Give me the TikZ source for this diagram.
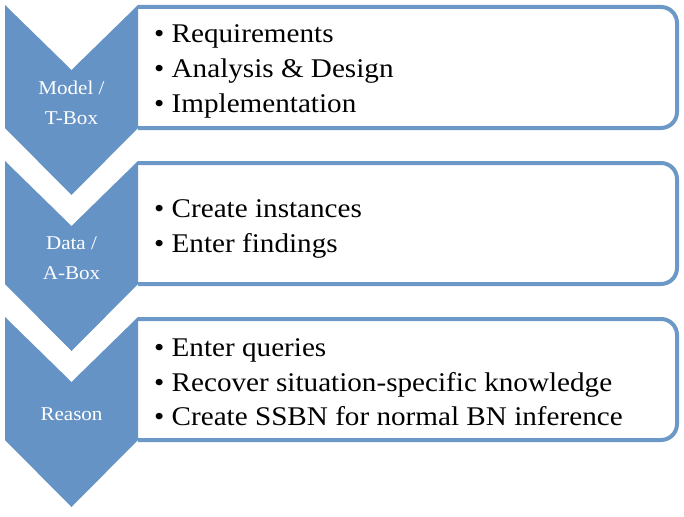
\documentclass[tikz,border=0pt]{standalone}
\usepackage{fontspec}
\setmainfont{Liberation Serif}
\newfontfamily\widefont[FakeStretch=1.08]{Liberation Serif}
\definecolor{chevblue}{RGB}{102,147,197}
\definecolor{lineblue}{RGB}{108,152,199}
\tikzset{
  chev/.style={fill=chevblue, draw=none},
  boxline/.style={draw=lineblue, line width=4pt, rounded corners=16pt},
  item/.style={anchor=base west, inner sep=0pt, font=\widefont\fontsize{27}{30}\selectfont, text=black},
  chevlabel/.style={text=white, align=center, inner sep=0pt, font=\widefont\fontsize{19.5}{30}\selectfont},
}
\begin{document}
\begin{tikzpicture}[x=1pt,y=-1pt]
\useasboundingbox (0,0) rectangle (684,516);
\foreach \i/\dy in {1/0,2/156,3/312}{
  \begin{scope}[yshift=-\dy pt]
    \draw[boxline] (138,7) -- (677,7) -- (677,128) -- (138,128);
    \path[chev] (5,5) -- (71.5,70) -- (138,5) -- (138,128) -- (71.5,195) -- (5,128) -- cycle;
  \end{scope}
}
\node[chevlabel] (l1) at (71.5,103) {Model /\\T-Box};
\node[chevlabel] (l2) at (71.5,258) {Data /\\A-Box};
\node[chevlabel] (l3) at (71.5,414) {Reason};
\node[item] (a1) at (154,43) {• Requirements};
\node[item] (a2) at (154,78) {• Analysis \& Design};
\node[item] (a3) at (154,112) {• Implementation};
\node[item] (b1) at (154,217) {• Create instances};
\node[item] (b2) at (154,252) {• Enter findings};
\node[item] (c1) at (154,356) {• Enter queries};
\node[item] (c2) at (154,391) {• Recover situation-specific knowledge};
\node[item] (c3) at (154,425) {• Create SSBN for normal BN inference};
\end{tikzpicture}
\end{document}
